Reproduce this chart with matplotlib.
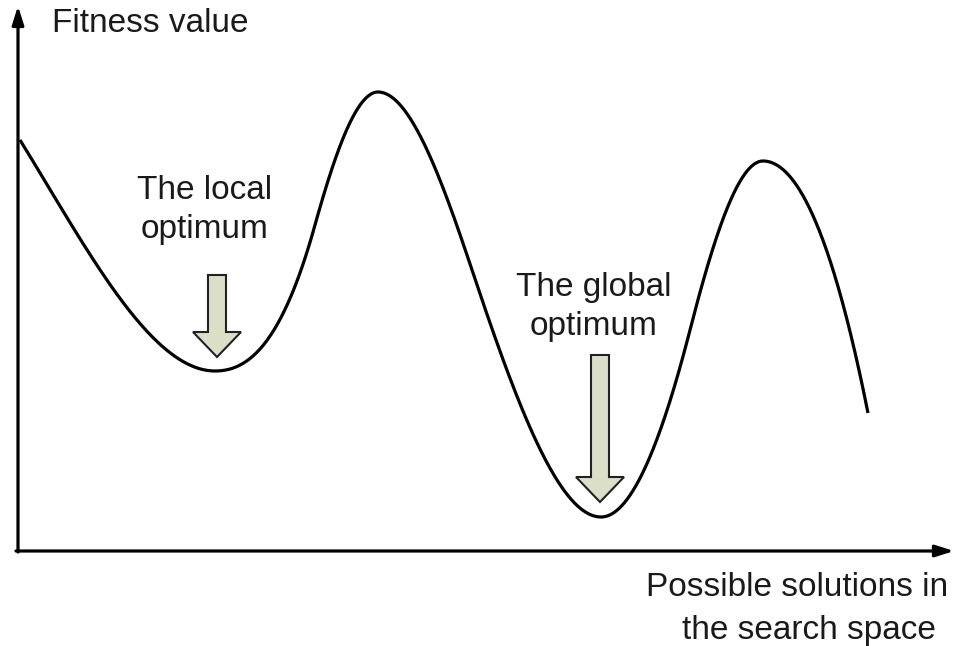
import numpy as np
import matplotlib
matplotlib.use("Agg")
import matplotlib.pyplot as plt
from matplotlib.patches import Polygon

plt.rcParams['font.family'] = ['Liberation Sans', 'DejaVu Sans']

# Curve key points (pixel coordinates, y downward)
# and the curve's slope (dy/dx) read at each of them
curve_x = [20, 215, 315, 378, 470, 601, 690, 763, 868]
curve_y = [140, 371, 225, 92, 264, 517, 330, 161, 413]
curve_slope = [1.62, 0.0, -3.6, 0.0, 3.0, 0.0, -3.9, 0.0, 5.0]

# Block arrows: (center x, shaft top y, tip y, head top y)
arrow_x = [217, 600]
arrow_top = [275, 355]
arrow_tip = [357, 502]
arrow_headtop = [332, 477]
shaft_half = 9
head_half = 24

labels = ["The local\noptimum", "The global\noptimum"]
label_x = [205, 594]
label_y = [210, 307]


def hermite(xs, ys, ms, n=200):
    X, Y = [], []
    for i in range(len(xs) - 1):
        x0, x1 = xs[i], xs[i + 1]
        h = x1 - x0
        t = np.linspace(0, 1, n, endpoint=(i == len(xs) - 2))
        h00 = 2 * t ** 3 - 3 * t ** 2 + 1
        h10 = t ** 3 - 2 * t ** 2 + t
        h01 = -2 * t ** 3 + 3 * t ** 2
        h11 = t ** 3 - t ** 2
        X.append(x0 + t * h)
        Y.append(h00 * ys[i] + h10 * h * ms[i] + h01 * ys[i + 1] + h11 * h * ms[i + 1])
    return np.concatenate(X), np.concatenate(Y)


fig = plt.figure(figsize=(9.59, 6.46), dpi=100)
ax = fig.add_axes([0, 0, 1, 1])
ax.set_xlim(0, 959)
ax.set_ylim(646, 0)
ax.axis('off')

# axes with arrowheads
ax.annotate('', xy=(18, 6), xytext=(18, 552),
            arrowprops=dict(arrowstyle='-|>,head_length=1.1,head_width=0.35', lw=2.3,
                            color='black', shrinkA=0, shrinkB=0))
ax.annotate('', xy=(954, 551), xytext=(16, 551),
            arrowprops=dict(arrowstyle='-|>,head_length=1.1,head_width=0.35', lw=2.3,
                            color='black', shrinkA=0, shrinkB=0))

cx, cy = hermite(curve_x, curve_y, curve_slope)
ax.plot(cx, cy, color='black', lw=2.3, solid_capstyle='butt')

for x, top, tip, ht in zip(arrow_x, arrow_top, arrow_tip, arrow_headtop):
    pts = [(x - shaft_half, top), (x + shaft_half, top), (x + shaft_half, ht),
           (x + head_half, ht), (x, tip), (x - head_half, ht), (x - shaft_half, ht)]
    ax.add_patch(Polygon(pts, closed=True, facecolor='#dcdfc8', edgecolor='#222222',
                         lw=1.5, joinstyle='miter'))

fs = 24
for t, x, y in zip(labels, label_x, label_y):
    ax.text(x, y, t, ha='center', va='center', fontsize=fs, color='#1a1a1a',
            linespacing=1.37)

ax.text(52, 23, "Fitness value", ha='left', va='center', fontsize=fs, color='#1a1a1a')
ax.text(797, 587, "Possible solutions in", ha='center', va='center', fontsize=fs, color='#1a1a1a')
ax.text(809, 630, "the search space", ha='center', va='center', fontsize=fs, color='#1a1a1a')

fig.savefig('out.png', dpi=100, facecolor='white')
